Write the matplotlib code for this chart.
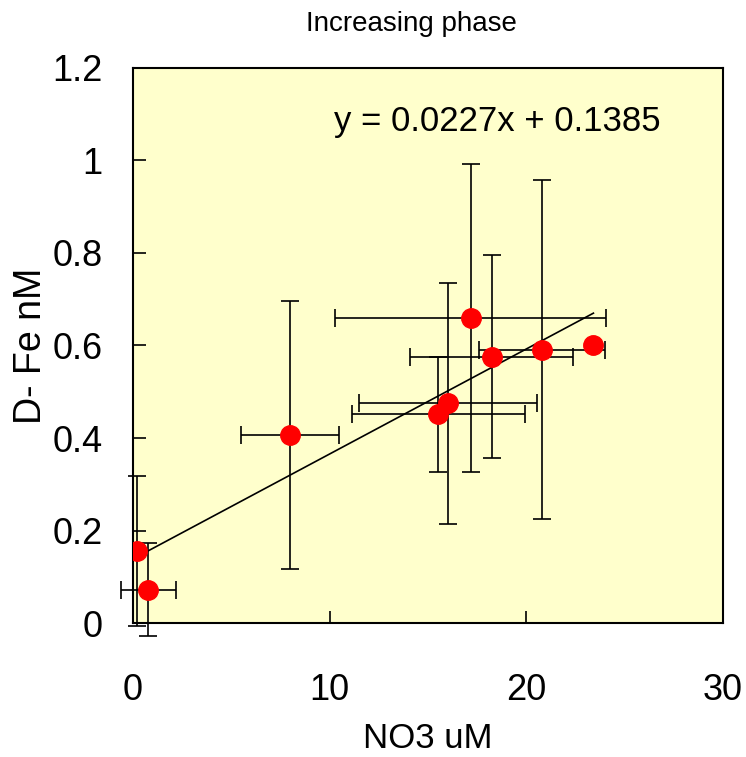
import matplotlib
matplotlib.use("Agg")
import matplotlib.pyplot as plt
import numpy as np

plt.rcParams['font.family'] = ['Liberation Sans', 'DejaVu Sans']

# NO3 (uM) vs dissolved Fe (nM), increasing phase
no3 = [0.19, 0.78, 7.98, 15.53, 16.02, 17.17, 18.24, 20.80, 23.41]
dfe = [0.156, 0.072, 0.406, 0.451, 0.475, 0.660, 0.576, 0.591, 0.602]
no3_err = [0.0, 1.40, 2.47, 4.40, 4.52, 6.90, 4.14, 3.20, 0.0]
dfe_err = [0.162, 0.10, 0.29, 0.125, 0.26, 0.333, 0.22, 0.367, 0.0]

slope = 0.0227
intercept = 0.1385

fig = plt.figure(figsize=(7.46, 7.57), dpi=100)
ax = fig.add_axes([0.1783, 0.177, 0.7909, 0.7332])
ax.set_facecolor('#FFFFCC')

eb = ax.errorbar(no3, dfe, xerr=no3_err, yerr=dfe_err, fmt='none',
                 ecolor='black', elinewidth=1.2, capsize=6.5, capthick=1.2,
                 zorder=2)
for part in eb.lines[1] + eb.lines[2]:
    part.set_clip_on(False)

xs = np.array([min(no3), max(no3)])
ax.plot(xs, slope * xs + intercept, color='black', lw=1.2, zorder=3)

ax.plot(no3, dfe, 'o', color='#FF0000', markersize=14, zorder=4)

ax.set_xlim(0, 30)
ax.set_ylim(0, 1.2)
ax.set_xticks([0, 10, 20, 30])
ax.set_yticks([0, 0.2, 0.4, 0.6, 0.8, 1.0, 1.2])
ax.set_xticklabels(['0', '10', '20', '30'])
ax.set_yticklabels(['0', '0.2', '0.4', '0.6', '0.8', '1', '1.2'])
ax.tick_params(axis='x', direction='in', length=9, width=1.2, labelsize=26, pad=36)
ax.tick_params(axis='y', direction='in', length=9, width=1.2, labelsize=26, pad=22)
for s in ax.spines.values():
    s.set_linewidth(1.5)

ax.set_xlabel('NO3 uM', fontsize=25, labelpad=10)
ax.set_ylabel('D- Fe nM', fontsize=27, labelpad=2)

fig.text(0.551, 0.968, 'Increasing phase', ha='center', va='center', fontsize=20)
ax.text(0.617, 0.903, 'y = 0.0227x + 0.1385', transform=ax.transAxes,
        ha='center', va='center', fontsize=25)

fig.savefig('out.png', dpi=100)
